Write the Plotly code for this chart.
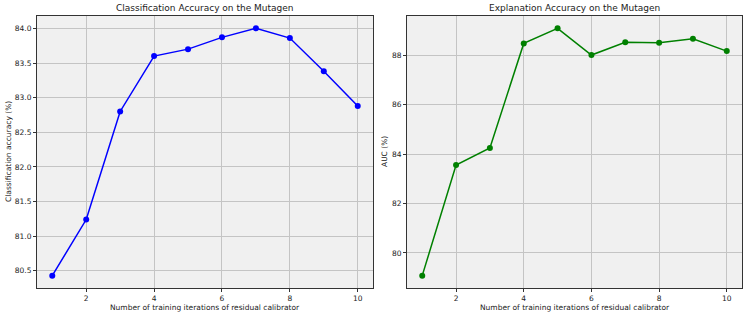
import plotly.graph_objects as go

iterations = [1, 2, 3, 4, 5, 6, 7, 8, 9, 10]
cls_acc = [80.43, 81.24, 82.80, 83.60, 83.70, 83.87, 84.00, 83.86, 83.38, 82.88]
auc = [79.08, 83.56, 84.25, 88.48, 89.09, 88.01, 88.53, 88.51, 88.67, 88.17]

titles = ["Classification Accuracy on the Mutagen", "Explanation Accuracy on the Mutagen"]
ylabels = ["Classification accuracy (%)", "AUC (%)"]
xlabel = "Number of training iterations of residual calibrator"

W, H = 748, 317
fig = go.Figure()
fig.add_trace(go.Scatter(x=iterations, y=cls_acc, mode="lines+markers",
                         line=dict(color="blue", width=1.5),
                         marker=dict(color="blue", size=6), xaxis="x", yaxis="y"))
fig.add_trace(go.Scatter(x=iterations, y=auc, mode="lines+markers",
                         line=dict(color="green", width=1.5),
                         marker=dict(color="green", size=6), xaxis="x2", yaxis="y2"))

font = dict(family="DejaVu Sans", size=7.5, color="#222")
ax_common = dict(showgrid=True, gridcolor="#c4c4c4", gridwidth=1,
                 showline=True, linecolor="#333", linewidth=1, mirror=True,
                 ticks="outside", ticklen=3, tickcolor="#333", zeroline=False,
                 tickfont=font)

ydom = [1 - 288 / H, 1 - 16 / H]
fig.update_layout(
    width=W, height=H, margin=dict(l=0, r=0, t=0, b=0),
    paper_bgcolor="white", plot_bgcolor="#f0f0f0", showlegend=False,
    font=font,
    xaxis=dict(domain=[37 / W, 373 / W], range=[0.55, 10.45], tickvals=[2, 4, 6, 8, 10], anchor="y", **ax_common),
    yaxis=dict(domain=ydom, range=[80.2515, 84.1785], tickvals=[80.5, 81.0, 81.5, 82.0, 82.5, 83.0, 83.5, 84.0],
               tickformat=".1f", anchor="x", **ax_common),
    xaxis2=dict(domain=[407 / W, 742 / W], range=[0.55, 10.45], tickvals=[2, 4, 6, 8, 10], anchor="y2", **ax_common),
    yaxis2=dict(domain=ydom, range=[78.58, 89.59], tickvals=[80, 82, 84, 86, 88], anchor="x2", **ax_common),
)

annotations = []
for cx, t in [((37 + 373) / 2, titles[0]), ((407 + 742) / 2, titles[1])]:
    annotations.append(dict(text=t, x=cx / W, y=1 - 8 / H, xref="paper", yref="paper",
                            showarrow=False, xanchor="center", yanchor="middle",
                            font=dict(family="DejaVu Sans", size=9, color="#222")))
    annotations.append(dict(text=xlabel, x=cx / W, y=1 - 307 / H, xref="paper", yref="paper",
                            showarrow=False, xanchor="center", yanchor="middle",
                            font=dict(family="DejaVu Sans", size=7.5, color="#222")))
for lx, lab in [(8, ylabels[0]), (384, ylabels[1])]:
    annotations.append(dict(text=lab, x=lx / W, y=(1 - 152 / H), xref="paper", yref="paper",
                            showarrow=False, xanchor="center", yanchor="middle", textangle=-90,
                            font=dict(family="DejaVu Sans", size=7.5, color="#222")))
fig.update_layout(annotations=annotations)

fig.write_html("out.html", config={"displayModeBar": False},
               post_script="document.body.style.margin='0px';")
